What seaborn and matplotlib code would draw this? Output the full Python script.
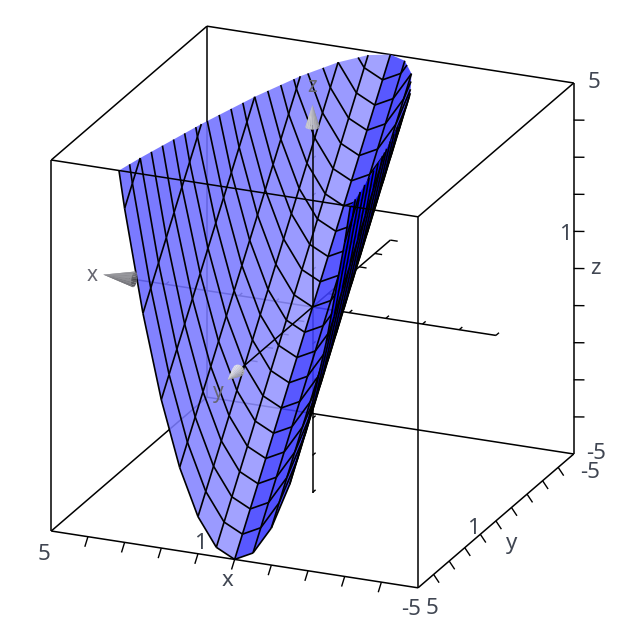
import numpy as np
import seaborn as sns
import matplotlib
matplotlib.use("Agg")
import matplotlib.pyplot as plt
from mpl_toolkits.mplot3d import proj3d
from mpl_toolkits.mplot3d.art3d import Poly3DCollection

# mesh: lines in x and y, and the height each one adds
x_grid = [-3.5, -3.0, -2.5, -2.0, -1.5, -1.0, -0.5, 0.0, 0.5, 1.0, 1.5, 2.0, 2.5, 3.0, 3.5]
x_height = [12.25, 9.0, 6.25, 4.0, 2.25, 1.0, 0.25, 0.0, 0.25, 1.0, 2.25, 4.0, 6.25, 9.0, 12.25]
y_grid = [-5.0, -4.5, -4.0, -3.5, -3.0, -2.5, -2.0, -1.5, -1.0, -0.5, 0.0,
          0.5, 1.0, 1.5, 2.0, 2.5, 3.0, 3.5, 4.0, 4.5, 5.0]
y_height = [5.0, 4.5, 4.0, 3.5, 3.0, 2.5, 2.0, 1.5, 1.0, 0.5, 0.0,
            -0.5, -1.0, -1.5, -2.0, -2.5, -3.0, -3.5, -4.0, -4.5, -5.0]

# colour of each strip between two x lines (drawn at alpha 0.88)
strip_colors = ["#0202ff", "#0202ff", "#0202ff", "#1414ff", "#2b2bff", "#3838ff", "#4141ff",
                "#9595ff", "#8c8cff", "#8383ff", "#7a7aff", "#7171ff", "#6868ff", "#6666ff"]

ticks = [-5, -4, -3, -2, -1, 0, 1, 2, 3, 4, 5]
box_labels = [("5", 5.19, 5, -5.65), ("1", 0.92, 5, -4.7), ("x", 0.2, 5, -5.6), ("-5", -4.81, 5, -5.6),
              ("5", -5.38, 5, -5.5), ("1", -4.81, 1, -4.87), ("y", -5.44, 0, -5.55), ("-5", -5.44, -5, -5.43),
              ("5", -5.55, -5, 5.1), ("1", -4.78, -5, 0.89), ("z", -5.6, -5, 0.1), ("-5", -5.6, -5, -4.9)]
axis_labels = [("x", 6.0, 0, -0.08), ("y", 0, 6.06, -0.13), ("z", 0, 0, 5.93)]

sns.set_theme(style="white")
plt.rcParams['font.family'] = ['Noto Sans', 'DejaVu Sans']

fig = plt.figure(figsize=(6.25, 6.25), dpi=100)
ax = fig.add_axes([0, 0, 1, 1], projection='3d', computed_zorder=False)
ax.set_proj_type('ortho')
ax.view_init(elev=21.4, azim=113)
ax.set_xlim(-5, 5, view_margin=0)
ax.set_ylim(-5, 5, view_margin=0)
ax.set_zlim(-5, 5, view_margin=0)
ax.set_box_aspect((1, 1, 1), zoom=1.0)
ax.set_axis_off()
fig.patch.set_facecolor("white")


def to_px(p):
    xs, ys, _ = proj3d.proj_transform(p[0], p[1], p[2], ax.get_proj())
    d = ax.transData.transform((xs, ys))
    return np.array([d[0], 625 - d[1]])


# fit the box on the canvas: height 371 px, centre at (312.5, 307)
fig.canvas.draw()
h = np.linalg.norm(to_px((-5, 5, 5)) - to_px((-5, 5, -5)))
ax.set_box_aspect((1, 1, 1), zoom=371 / h)
fig.canvas.draw()
c = to_px((0, 0, 0))
ax.set_position([(312.5 - c[0]) / 625, (c[1] - 307) / 625, 1, 1])
fig.canvas.draw()

# towards the camera, to sort mesh lines just in front of their faces
el, az = np.radians(21.4), np.radians(113)
cam = np.array([np.cos(el) * np.cos(az), np.cos(el) * np.sin(az), np.sin(el)])


def clip_top(poly, zmax=5.0):
    out = []
    for i in range(len(poly)):
        a, b = np.array(poly[i]), np.array(poly[(i + 1) % len(poly)])
        if a[2] <= zmax:
            out.append(a)
        if (a[2] - zmax) * (b[2] - zmax) < 0:
            t = (zmax - a[2]) / (b[2] - a[2])
            out.append(a + t * (b - a))
    return out


X, Y = np.meshgrid(x_grid, y_grid, indexing='ij')
Z = np.add.outer(x_height, y_height)
nodes = np.dstack([X, Y, Z])

verts, faces, edges = [], [], []
clear = (0, 0, 0, 0)
for i in range(len(x_grid) - 1):
    rgba = matplotlib.colors.to_rgba(strip_colors[i], 0.88)
    for j in range(len(y_grid) - 1):
        quad = [nodes[i, j], nodes[i + 1, j], nodes[i + 1, j + 1], nodes[i, j + 1]]
        poly = clip_top(quad)
        if len(poly) >= 3:
            verts.append(poly)
            faces.append(rgba)
            edges.append(clear)
# mesh lines go in the same collection, so the near wall can cover them
for i in range(len(x_grid)):
    for j in range(len(y_grid)):
        for a, b in (((i, j), (i + 1, j)), ((i, j), (i, j + 1))):
            if b[0] >= len(x_grid) or b[1] >= len(y_grid):
                continue
            pa, pb = nodes[a], nodes[b]
            if pa[2] >= 5 and pb[2] >= 5:
                continue
            if pa[2] > 5 or pb[2] > 5:
                t = (5 - pa[2]) / (pb[2] - pa[2])
                pc = pa + t * (pb - pa)
                pa, pb = (pc, pb) if pa[2] > 5 else (pa, pc)
            verts.append([pa + cam * 0.6, pb + cam * 0.6])
            faces.append(clear)
            edges.append((0, 0, 0, 1))

surface = Poly3DCollection(verts, facecolors=faces, edgecolors=edges, linewidths=1.2, zsort='average', zorder=2)
ax.add_collection3d(surface)

line = dict(color="black", lw=1.1, solid_capstyle='butt')
# box edges: only the two along the near bottom and top go over the surface
for y, z, zo in [(5, 5, 3), (5, -5, 3), (-5, 5, 1), (-5, -5, 1)]:
    ax.plot([-5, 5], [y, y], [z, z], zorder=zo, **line)
for x, z in [(5, 5), (5, -5), (-5, 5), (-5, -5)]:
    ax.plot([x, x], [-5, 5], [z, z], zorder=1, **line)
for x, y in [(5, 5), (5, -5), (-5, 5), (-5, -5)]:
    ax.plot([x, x], [y, y], [-5, 5], zorder=1, **line)

# ticks on the box edges
thin = dict(color="black", lw=1.0, solid_capstyle='butt', zorder=1)
for t in ticks[1:-1]:
    ax.plot([t, t], [5, 5.2], [-5, -5.2], **thin)
    ax.plot([-5, -5.15], [t, t], [-5, -5.2], **thin)
    ax.plot([-5, -5.25], [-5, -5.1], [t, t], **thin)

# axes through the origin
ax.plot([5, -5], [0, 0], [0, 0], zorder=1, **line)
ax.plot([0, 0], [-5, 0], [0, 0], zorder=1, **line)
ax.plot([0, 0], [0, 4.6], [0, 0], zorder=3, **line)
ax.plot([0, 0], [0, 0], [-5, 0], zorder=1, **line)
ax.plot([0, 0], [0, 0], [0, 4.9], zorder=3, **line)
for t in ticks:
    ax.plot([t, t], [0, -0.2], [0, 0], **thin)
    ax.plot([0, -0.2], [t, t], [0, 0], **thin)
    ax.plot([0, 0], [0, -0.2], [t, t], **thin)


# gray arrow heads
def cone(tip, base, radius, u, v, low, high):
    tip, base, u, v = [np.array(a, float) for a in (tip, base, u, v)]
    angles = np.linspace(0, 2 * np.pi, 17)
    tris, cols = [], []
    for a0, a1 in zip(angles[:-1], angles[1:]):
        p0 = base + radius * (np.cos(a0) * u + np.sin(a0) * v)
        p1 = base + radius * (np.cos(a1) * u + np.sin(a1) * v)
        tris.append([tip, p0, p1])
        g = low + (high - low) * (0.5 + 0.5 * np.cos((a0 + a1) / 2 - 1.0))
        cols.append((g, g, g + 0.02))
    ax.add_collection3d(Poly3DCollection(tris, facecolors=cols, edgecolors='none', zorder=4))


cone((5.7, 0, 0), (4.86, 0, 0), 0.2, (0, 1, 0), (0, 0, 1), 0.35, 0.6)
cone((0, 5.45, 0), (0, 4.75, 0), 0.16, (1, 0, 0), (0, 0, 1), 0.6, 0.9)
cone((0, 0, 5.45), (0, 0, 4.85), 0.18, (1, 0, 0), (0, 1, 0), 0.55, 0.8)


def label(s, x, y, z, size, color):
    xs, ys, _ = proj3d.proj_transform(x, y, z, ax.get_proj())
    ax.text2D(xs, ys, s, transform=ax.transData, fontsize=size, color=color, ha='center', va='center', zorder=5)


for s, x, y, z in box_labels:
    label(s, x, y, z, 16, "#404652")
for s, x, y, z in axis_labels:
    label(s, x, y, z, 15, "#666670")

fig.savefig("out.png", dpi=100, facecolor="white")
